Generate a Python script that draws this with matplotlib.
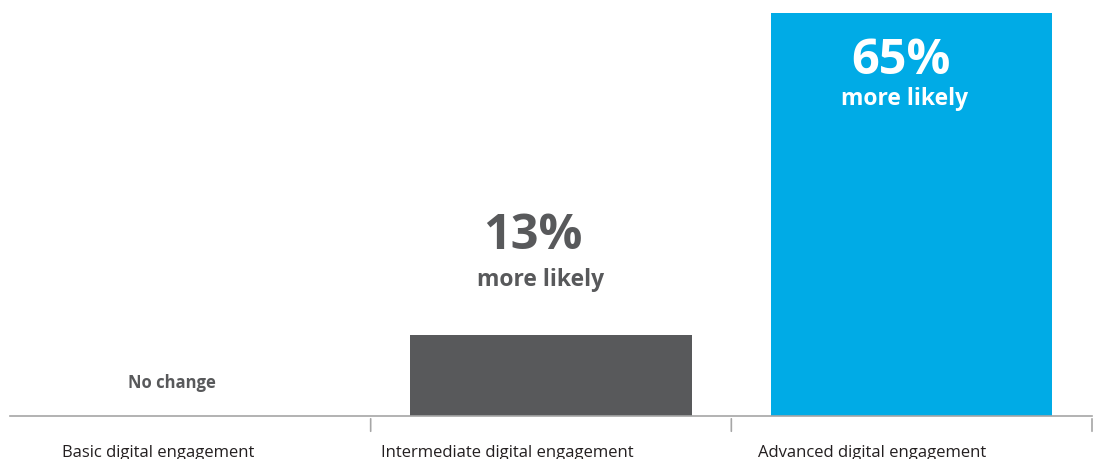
import matplotlib.pyplot as plt

plt.rcParams['font.family'] = ['Open Sans', 'DejaVu Sans']

categories = ["Basic digital engagement", "Intermediate digital engagement", "Advanced digital engagement"]
uplift = [0, 13, 65]
uplift_text = ["No change", "13%", "65%"]
bar_colors = ["#58595B", "#58595B", "#00ABE6"]

grey_txt = "#58595B"
axis_col = "#A6A6A6"

fig = plt.figure(figsize=(10.99, 4.59), dpi=100)
ax = fig.add_axes([10 / 1099, 43 / 459, 1082 / 1099, 416 / 459])

x = [i + 0.5 for i in range(len(categories))]
ax.bar(x, uplift, width=0.78, color=bar_colors, zorder=2)

ax.set_xlim(0, 3)
ax.set_ylim(0, 65 * 416 / 403)
ax.axis("off")

# baseline with separators between the groups
ax.plot([0, 3], [0, 0], color=axis_col, lw=1.2, clip_on=False, zorder=3)
for sep in [1, 2, 3]:
    ax.annotate("", xy=(sep, 0), xytext=(0, -13), textcoords="offset points",
                xycoords="data", arrowprops=dict(arrowstyle="-", color=axis_col, lw=1.2))

# labels for each bar
ax.annotate(uplift_text[0], xy=(x[0] - 0.05, uplift[0]), xytext=(0, 24), textcoords="offset points",
            ha="center", va="center", fontsize=12, fontweight="bold", color=grey_txt)

ax.annotate(uplift_text[1], xy=(x[1] - 0.05, uplift[1]), xytext=(0, 71), textcoords="offset points",
            ha="center", va="center", fontsize=35, fontweight="bold", color=grey_txt)
ax.annotate("more likely", xy=(x[1] - 0.03, uplift[1]), xytext=(0, 40), textcoords="offset points",
            ha="center", va="center", fontsize=16.5, fontweight="bold", color=grey_txt)

ax.annotate(uplift_text[2], xy=(x[2] - 0.03, uplift[2]), xytext=(0, -35), textcoords="offset points",
            ha="center", va="center", fontsize=35, fontweight="bold", color="white")
ax.annotate("more likely", xy=(x[2] - 0.02, uplift[2]), xytext=(0, -62), textcoords="offset points",
            ha="center", va="center", fontsize=16.5, fontweight="bold", color="white")

# category names under the baseline
label_x = [0.41, 1.38, 2.39]
for lx, name in zip(label_x, categories):
    ax.annotate(name, xy=(lx, 0), xytext=(0, -29.5), textcoords="offset points",
                ha="center", va="baseline", fontsize=12, color="#231F20")

fig.savefig("out.png", dpi=100)
